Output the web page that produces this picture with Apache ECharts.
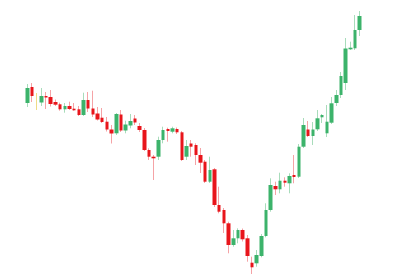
<!DOCTYPE html>
<html>
<head>
<meta charset="utf-8">
<style>html,body{margin:0;padding:0;background:#fff}#c{width:417px;height:275px}</style>
<script src="https://cdn.jsdelivr.net/npm/echarts@6/dist/echarts.min.js"></script>
</head>
<body>
<div id="c"></div>
<script>
var categories = [];
for (var k = 1; k <= 72; k++) categories.push('D' + k);

var openVals  = [172,188,174,172.5,179,178,173,170.7,165.7,169,166.3,165.7,160,175,166.5,161.5,157.3,153.3,145.5,141.7,160.5,144.5,149.5,156.5,149,145,125,118.3,118.3,135,146,143.3,146,142.7,118.3,131.5,130,120,113.3,93.3,105.7,70,65,51.7,30,36.7,45,36.7,12.3,11.7,19,39,65,89,85.7,94.3,91.7,100,98.3,128.3,145.5,139,145.7,157.7,141.7,152.3,172,180,192,225.7,226.7,245];
var closeVals = [187,179,174,179,177.5,171,170.3,165.7,169,166,164.7,160,175,166.5,160.5,155.5,153,145.5,141.5,161,144.5,150.5,154,152.5,145,125,118.3,116.7,135,145,144,146.7,142.7,115,129,128.3,120,112.3,93.3,105,70,63.3,51.7,30,36.7,45,35.7,19,7.7,20,39,65,90,85.7,94.3,92.3,99,98,128.3,150,139,145.5,156.7,160,153.3,171.7,180,199,226.5,227.3,245,259];
var lowVals   = [168,173,165,169,166,168.5,169,164.3,162.3,165,164.3,159,159,163,158,154.5,152,143.5,131.5,140,143,141.7,146.7,150,143,124,115,95,115,131.7,133.3,141.7,141,114,115,118.3,110,102,92,92,68,61.7,42,21.7,28.3,31.7,33.5,13.3,1,8.3,17.7,37.7,63.3,80,81.7,88.3,81.7,91.7,97,127,138,130,144,152,138,151,169,177,185,225,225,239];
var highVals  = [191,192,182,187,183,185,175.5,172.3,172,173.3,172,169,182.3,183,184.3,168,167,158,150,162,165,154.3,161,160,152,147,126.7,120,138.3,148.3,147.3,148.3,147.5,144,135,135,131.7,127,115,118.3,107,88.3,67,53.3,45,46.7,46.5,40,18.3,25,41,71.7,96.7,93.3,102.3,97.7,101.7,120,131,157,154,153,165,161,170,178,185,203,237,233.3,260,264];

var UP = '#3cb36b', DOWN = '#e8151b';
var UP_WICK = '#a8dcbb', DOWN_WICK = '#f5a3a6', DOJI = '#efdc86';

var wickData = [], bodyData = [];
for (var i = 0; i < categories.length; i++) {
  var o = openVals[i], c = closeVals[i];
  wickData.push([o, c, lowVals[i], highVals[i]]);
  bodyData.push([o, c, Math.min(o, c), Math.max(o, c)]);
}

var chart = echarts.init(document.getElementById('c'), null, {renderer: 'canvas'});
chart.setOption({
  animation: false,
  backgroundColor: '#ffffff',
  grid: {left: 25, right: 55, top: 0, bottom: 0},
  xAxis: {type: 'category', data: categories, show: false, boundaryGap: true},
  yAxis: {type: 'value', min: 0, max: 275, show: false, splitLine: {show: false}},
  series: [
    {
      type: 'candlestick',
      data: wickData,
      barWidth: 1,
      itemStyle: {color: UP_WICK, color0: DOWN_WICK, borderColor: UP_WICK, borderColor0: DOWN_WICK, borderColorDoji: DOJI, borderWidth: 1},
      emphasis: {disabled: true},
      silent: true
    },
    {
      type: 'candlestick',
      data: bodyData,
      barWidth: 4,
      itemStyle: {color: UP, color0: DOWN, borderColor: UP, borderColor0: DOWN, borderColorDoji: DOJI, borderWidth: 0},
      emphasis: {disabled: true},
      silent: true
    }
  ]
});
</script>
</body>
</html>
